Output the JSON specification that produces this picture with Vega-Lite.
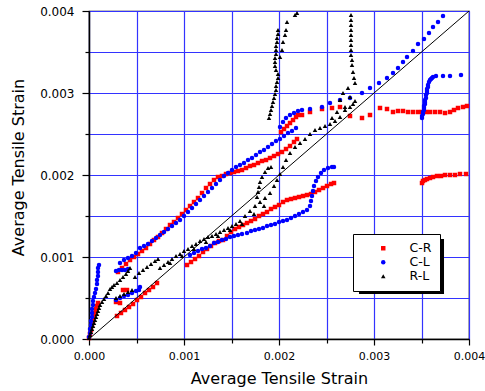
{
"$schema": "https://vega.github.io/schema/vega-lite/v6.json",
"width": 380, "height": 328,
"autosize": {"type": "none"},
"padding": {"left": 89, "top": 11, "right": 16, "bottom": 52},
"background": "white",
"config": {"view": {"stroke": "black", "strokeWidth": 1.2}, "font": "DejaVu Sans"},
"datasets": {
"diag": [{"x": 0, "y": 0}, {"x": 0.004, "y": 0.004}],
"pts": [
{"s":"C-R","x":0,"y":0.0000122},{"s":"C-R","x":0.0000105,"y":0.0000610},{"s":"C-R","x":0.0000211,"y":0.0001098},{"s":"C-R","x":0.0000316,"y":0.0001707},{"s":"C-R","x":0.0000421,"y":0.0002195},{"s":"C-R","x":0.0000526,"y":0.0002683},{"s":"C-R","x":0.0000632,"y":0.0003171},{"s":"C-R","x":0.0000737,"y":0.0003659},{"s":"C-R","x":0.0000842,"y":0.0004024},{"s":"C-R","x":0.0000947,"y":0.0004390},
{"s":"C-R","x":0.0002947,"y":0.0002805},{"s":"C-R","x":0.0003368,"y":0.0003171},{"s":"C-R","x":0.0003789,"y":0.0003537},{"s":"C-R","x":0.0004211,"y":0.0003902},{"s":"C-R","x":0.0004632,"y":0.0004268},{"s":"C-R","x":0.0005053,"y":0.0004756},{"s":"C-R","x":0.0005474,"y":0.0005122},{"s":"C-R","x":0.0005895,"y":0.0005610},{"s":"C-R","x":0.0006316,"y":0.0005976},{"s":"C-R","x":0.0006737,"y":0.0006341},{"s":"C-R","x":0.0007158,"y":0.0006829},
{"s":"C-R","x":0.0002842,"y":0.0004512},{"s":"C-R","x":0.0003263,"y":0.0004390},{"s":"C-R","x":0.0003579,"y":0.0005976},{"s":"C-R","x":0.0004,"y":0.0005976},
{"s":"C-R","x":0.0003053,"y":0.0008171},{"s":"C-R","x":0.0003474,"y":0.0008659},{"s":"C-R","x":0.0003895,"y":0.0009146},{"s":"C-R","x":0.0004316,"y":0.0009634},{"s":"C-R","x":0.0004737,"y":0.0010},{"s":"C-R","x":0.0005158,"y":0.0010366},{"s":"C-R","x":0.0005579,"y":0.0010732},{"s":"C-R","x":0.0006,"y":0.0011098},{"s":"C-R","x":0.0006421,"y":0.0011585},{"s":"C-R","x":0.0006842,"y":0.0012073},{"s":"C-R","x":0.0007263,"y":0.0012439},{"s":"C-R","x":0.0007684,"y":0.0012927},{"s":"C-R","x":0.0008105,"y":0.0013415},{"s":"C-R","x":0.0008526,"y":0.0013902},{"s":"C-R","x":0.0008947,"y":0.0014268},{"s":"C-R","x":0.0009368,"y":0.0014756},{"s":"C-R","x":0.0009789,"y":0.0015244},{"s":"C-R","x":0.0010211,"y":0.0015732},{"s":"C-R","x":0.0010632,"y":0.0016220},{"s":"C-R","x":0.0011053,"y":0.0016707},{"s":"C-R","x":0.0011474,"y":0.0017195},{"s":"C-R","x":0.0011895,"y":0.0017805},{"s":"C-R","x":0.0012316,"y":0.0018415},{"s":"C-R","x":0.0012737,"y":0.0018902},{"s":"C-R","x":0.0013158,"y":0.0019390},{"s":"C-R","x":0.0013579,"y":0.0019756},{"s":"C-R","x":0.0014,"y":0.0019878},{"s":"C-R","x":0.0014421,"y":0.0020122},{"s":"C-R","x":0.0014842,"y":0.0020244},{"s":"C-R","x":0.0015263,"y":0.0020366},{"s":"C-R","x":0.0015684,"y":0.0020488},{"s":"C-R","x":0.0016105,"y":0.0020610},{"s":"C-R","x":0.0016526,"y":0.0020854},{"s":"C-R","x":0.0016947,"y":0.0021098},{"s":"C-R","x":0.0017368,"y":0.0021220},{"s":"C-R","x":0.0017789,"y":0.0021463},{"s":"C-R","x":0.0018211,"y":0.0021707},{"s":"C-R","x":0.0018632,"y":0.0021829},{"s":"C-R","x":0.0019053,"y":0.0022073},{"s":"C-R","x":0.0019474,"y":0.0022317},{"s":"C-R","x":0.0019895,"y":0.0022561},{"s":"C-R","x":0.0020316,"y":0.0022805},{"s":"C-R","x":0.0020737,"y":0.0023171},{"s":"C-R","x":0.0021158,"y":0.0023537},{"s":"C-R","x":0.0021579,"y":0.0024024},{"s":"C-R","x":0.0021895,"y":0.0024390},
{"s":"C-R","x":0.0020211,"y":0.0025244},{"s":"C-R","x":0.0020526,"y":0.0025610},{"s":"C-R","x":0.0020842,"y":0.0025976},{"s":"C-R","x":0.0021158,"y":0.0026341},{"s":"C-R","x":0.0021474,"y":0.0026707},{"s":"C-R","x":0.0021789,"y":0.0027073},{"s":"C-R","x":0.0022,"y":0.0027317},
{"s":"C-R","x":0.0022421,"y":0.0027317},{"s":"C-R","x":0.0023263,"y":0.0027683},{"s":"C-R","x":0.0024526,"y":0.0028049},{"s":"C-R","x":0.0025579,"y":0.0028171},{"s":"C-R","x":0.0026421,"y":0.0028293},{"s":"C-R","x":0.0027474,"y":0.0027195},{"s":"C-R","x":0.0028737,"y":0.0026951},{"s":"C-R","x":0.0029579,"y":0.0027317},{"s":"C-R","x":0.0030632,"y":0.0028171},{"s":"C-R","x":0.0031368,"y":0.0028049},{"s":"C-R","x":0.0032,"y":0.0027683},{"s":"C-R","x":0.0032526,"y":0.0027805},{"s":"C-R","x":0.0033053,"y":0.0027805},{"s":"C-R","x":0.0033579,"y":0.0027683},{"s":"C-R","x":0.0034105,"y":0.0027683},{"s":"C-R","x":0.0034632,"y":0.0027683},{"s":"C-R","x":0.0035053,"y":0.0027683},{"s":"C-R","x":0.0035474,"y":0.0027683},{"s":"C-R","x":0.0035895,"y":0.0027683},{"s":"C-R","x":0.0036421,"y":0.0027683},{"s":"C-R","x":0.0036947,"y":0.0027683},{"s":"C-R","x":0.0037474,"y":0.0027561},{"s":"C-R","x":0.0038,"y":0.0027683},{"s":"C-R","x":0.0038421,"y":0.0027927},{"s":"C-R","x":0.0038842,"y":0.0028171},{"s":"C-R","x":0.0039368,"y":0.0028293},{"s":"C-R","x":0.0039789,"y":0.0028415},
{"s":"C-R","x":0.0010316,"y":0.0009024},{"s":"C-R","x":0.0010737,"y":0.0009390},{"s":"C-R","x":0.0011158,"y":0.0009756},{"s":"C-R","x":0.0011579,"y":0.0010122},{"s":"C-R","x":0.0012,"y":0.0010610},{"s":"C-R","x":0.0012421,"y":0.0010976},{"s":"C-R","x":0.0012842,"y":0.0011341},{"s":"C-R","x":0.0013263,"y":0.0011707},{"s":"C-R","x":0.0013684,"y":0.0011951},{"s":"C-R","x":0.0014105,"y":0.0012073},{"s":"C-R","x":0.0014526,"y":0.0012561},{"s":"C-R","x":0.0014947,"y":0.0013049},{"s":"C-R","x":0.0015368,"y":0.0013415},{"s":"C-R","x":0.0015789,"y":0.0013659},{"s":"C-R","x":0.0016211,"y":0.0013902},{"s":"C-R","x":0.0016632,"y":0.0014146},{"s":"C-R","x":0.0017053,"y":0.0014390},{"s":"C-R","x":0.0017474,"y":0.0014634},{"s":"C-R","x":0.0017895,"y":0.0015},{"s":"C-R","x":0.0018316,"y":0.0015244},{"s":"C-R","x":0.0018737,"y":0.0015488},{"s":"C-R","x":0.0019158,"y":0.0015854},{"s":"C-R","x":0.0019579,"y":0.0016098},{"s":"C-R","x":0.002,"y":0.0016341},{"s":"C-R","x":0.0020421,"y":0.0016707},{"s":"C-R","x":0.0020842,"y":0.0016951},{"s":"C-R","x":0.0021263,"y":0.0017073},{"s":"C-R","x":0.0021684,"y":0.0017195},{"s":"C-R","x":0.0022105,"y":0.0017317},{"s":"C-R","x":0.0022526,"y":0.0017439},{"s":"C-R","x":0.0022947,"y":0.0017561},{"s":"C-R","x":0.0023368,"y":0.0017683},{"s":"C-R","x":0.0023789,"y":0.0017927},{"s":"C-R","x":0.0024211,"y":0.0018171},{"s":"C-R","x":0.0024632,"y":0.0018415},{"s":"C-R","x":0.0025053,"y":0.0018659},{"s":"C-R","x":0.0025474,"y":0.0018902},{"s":"C-R","x":0.0025789,"y":0.0019024},
{"s":"C-R","x":0.0035053,"y":0.0019024},{"s":"C-R","x":0.0035158,"y":0.0019268},{"s":"C-R","x":0.0035368,"y":0.0019390},{"s":"C-R","x":0.0035579,"y":0.0019512},{"s":"C-R","x":0.0035895,"y":0.0019634},{"s":"C-R","x":0.0036211,"y":0.0019756},{"s":"C-R","x":0.0036632,"y":0.0019878},{"s":"C-R","x":0.0037053,"y":0.0019878},{"s":"C-R","x":0.0037474,"y":0.002},{"s":"C-R","x":0.0038,"y":0.002},{"s":"C-R","x":0.0038526,"y":0.002},{"s":"C-R","x":0.0039053,"y":0.0020122},{"s":"C-R","x":0.0039684,"y":0.0020122},
{"s":"C-L","x":0,"y":0.0000244},{"s":"C-L","x":0.0000105,"y":0.0000732},{"s":"C-L","x":0.0000105,"y":0.0001220},{"s":"C-L","x":0.0000211,"y":0.0001707},{"s":"C-L","x":0.0000211,"y":0.0002195},{"s":"C-L","x":0.0000316,"y":0.0002683},{"s":"C-L","x":0.0000316,"y":0.0003171},{"s":"C-L","x":0.0000316,"y":0.0003659},{"s":"C-L","x":0.0000421,"y":0.0004146},{"s":"C-L","x":0.0000421,"y":0.0004634},{"s":"C-L","x":0.0000526,"y":0.0005122},{"s":"C-L","x":0.0000632,"y":0.0005610},{"s":"C-L","x":0.0000737,"y":0.0006098},{"s":"C-L","x":0.0000842,"y":0.0006707},{"s":"C-L","x":0.0000842,"y":0.0007195},{"s":"C-L","x":0.0000947,"y":0.0007683},{"s":"C-L","x":0.0000947,"y":0.0008171},{"s":"C-L","x":0.0000947,"y":0.0008659},{"s":"C-L","x":0.0001053,"y":0.0009024},
{"s":"C-L","x":0.0002842,"y":0.0008293},{"s":"C-L","x":0.0003158,"y":0.0008415},{"s":"C-L","x":0.0003474,"y":0.0008415},{"s":"C-L","x":0.0003789,"y":0.0008415},{"s":"C-L","x":0.0004105,"y":0.0008537},
{"s":"C-L","x":0.0003263,"y":0.0009268},{"s":"C-L","x":0.0003684,"y":0.0009634},{"s":"C-L","x":0.0004105,"y":0.0009878},{"s":"C-L","x":0.0004526,"y":0.0010122},{"s":"C-L","x":0.0004947,"y":0.0010488},{"s":"C-L","x":0.0005368,"y":0.0011098},{"s":"C-L","x":0.0005789,"y":0.0011341},{"s":"C-L","x":0.0006211,"y":0.0011585},{"s":"C-L","x":0.0006632,"y":0.0011951},{"s":"C-L","x":0.0007053,"y":0.0012317},{"s":"C-L","x":0.0007474,"y":0.0012683},{"s":"C-L","x":0.0007895,"y":0.0013049},{"s":"C-L","x":0.0008316,"y":0.0013415},{"s":"C-L","x":0.0008737,"y":0.0013780},{"s":"C-L","x":0.0009158,"y":0.0014146},{"s":"C-L","x":0.0009579,"y":0.0014512},{"s":"C-L","x":0.001,"y":0.0015},{"s":"C-L","x":0.0010421,"y":0.0015488},{"s":"C-L","x":0.0010842,"y":0.0015976},{"s":"C-L","x":0.0011263,"y":0.0016463},{"s":"C-L","x":0.0011684,"y":0.0016951},{"s":"C-L","x":0.0012105,"y":0.0017439},{"s":"C-L","x":0.0012526,"y":0.0017927},{"s":"C-L","x":0.0012947,"y":0.0018415},{"s":"C-L","x":0.0013368,"y":0.0018902},{"s":"C-L","x":0.0013789,"y":0.0019390},{"s":"C-L","x":0.0014211,"y":0.0019878},{"s":"C-L","x":0.0014632,"y":0.0020244},{"s":"C-L","x":0.0015053,"y":0.0020610},{"s":"C-L","x":0.0015474,"y":0.0020976},{"s":"C-L","x":0.0015895,"y":0.0021220},{"s":"C-L","x":0.0016316,"y":0.0021463},{"s":"C-L","x":0.0016737,"y":0.0021829},{"s":"C-L","x":0.0017158,"y":0.0022073},{"s":"C-L","x":0.0017579,"y":0.0022439},{"s":"C-L","x":0.0018,"y":0.0022805},{"s":"C-L","x":0.0018421,"y":0.0023049},{"s":"C-L","x":0.0018842,"y":0.0023415},{"s":"C-L","x":0.0019263,"y":0.0023780},{"s":"C-L","x":0.0019684,"y":0.0024146},{"s":"C-L","x":0.0020105,"y":0.0024390},{"s":"C-L","x":0.0020526,"y":0.0024756},{"s":"C-L","x":0.0020947,"y":0.0025122},{"s":"C-L","x":0.0021368,"y":0.0025366},{"s":"C-L","x":0.0021789,"y":0.0025732},
{"s":"C-L","x":0.0020105,"y":0.0025854},{"s":"C-L","x":0.0020421,"y":0.0026463},{"s":"C-L","x":0.0020737,"y":0.0026951},{"s":"C-L","x":0.0021158,"y":0.0027317},{"s":"C-L","x":0.0021579,"y":0.0027561},{"s":"C-L","x":0.0022,"y":0.0027805},{"s":"C-L","x":0.0022421,"y":0.0027927},
{"s":"C-L","x":0.0023263,"y":0.0028049},{"s":"C-L","x":0.0024526,"y":0.0028293},{"s":"C-L","x":0.0025368,"y":0.0028780},{"s":"C-L","x":0.0026421,"y":0.0029146},{"s":"C-L","x":0.0027474,"y":0.0029390},{"s":"C-L","x":0.0028737,"y":0.003},{"s":"C-L","x":0.0029579,"y":0.0030610},{"s":"C-L","x":0.0030526,"y":0.0031220},{"s":"C-L","x":0.0031368,"y":0.0031829},{"s":"C-L","x":0.0032,"y":0.0032439},{"s":"C-L","x":0.0032526,"y":0.0033049},{"s":"C-L","x":0.0033053,"y":0.0033780},{"s":"C-L","x":0.0033474,"y":0.0034390},{"s":"C-L","x":0.0034105,"y":0.0035122},{"s":"C-L","x":0.0034632,"y":0.0035976},{"s":"C-L","x":0.0035263,"y":0.0036585},{"s":"C-L","x":0.0035789,"y":0.0037317},{"s":"C-L","x":0.0036211,"y":0.0038049},{"s":"C-L","x":0.0036737,"y":0.0038659},{"s":"C-L","x":0.0037263,"y":0.0039390},
{"s":"C-L","x":0.0035053,"y":0.0026951},{"s":"C-L","x":0.0035053,"y":0.0027195},{"s":"C-L","x":0.0035158,"y":0.0027439},{"s":"C-L","x":0.0035158,"y":0.0027683},{"s":"C-L","x":0.0035263,"y":0.0027927},{"s":"C-L","x":0.0035263,"y":0.0028171},{"s":"C-L","x":0.0035263,"y":0.0028415},{"s":"C-L","x":0.0035368,"y":0.0028659},{"s":"C-L","x":0.0035368,"y":0.0028902},{"s":"C-L","x":0.0035368,"y":0.0029146},{"s":"C-L","x":0.0035474,"y":0.0029390},{"s":"C-L","x":0.0035474,"y":0.0029756},{"s":"C-L","x":0.0035579,"y":0.003},{"s":"C-L","x":0.0035579,"y":0.0030244},{"s":"C-L","x":0.0035579,"y":0.0030488},{"s":"C-L","x":0.0035684,"y":0.0030732},{"s":"C-L","x":0.0035684,"y":0.0030976},{"s":"C-L","x":0.0035789,"y":0.0031341},{"s":"C-L","x":0.0035895,"y":0.0031585},{"s":"C-L","x":0.0036,"y":0.0031707},{"s":"C-L","x":0.0036105,"y":0.0031829},{"s":"C-L","x":0.0036211,"y":0.0031951},{"s":"C-L","x":0.0036526,"y":0.0032073},{"s":"C-L","x":0.0037263,"y":0.0032073},{"s":"C-L","x":0.0038,"y":0.0032073},{"s":"C-L","x":0.0039158,"y":0.0032195},
{"s":"C-L","x":0.0010632,"y":0.0010244},{"s":"C-L","x":0.0011053,"y":0.0010488},{"s":"C-L","x":0.0011474,"y":0.0010732},{"s":"C-L","x":0.0011895,"y":0.0010976},{"s":"C-L","x":0.0012316,"y":0.0011098},{"s":"C-L","x":0.0012737,"y":0.0011341},{"s":"C-L","x":0.0013158,"y":0.0011707},{"s":"C-L","x":0.0013579,"y":0.0011829},{"s":"C-L","x":0.0014,"y":0.0012073},{"s":"C-L","x":0.0014421,"y":0.0012195},{"s":"C-L","x":0.0014842,"y":0.0012439},{"s":"C-L","x":0.0015263,"y":0.0012561},{"s":"C-L","x":0.0015684,"y":0.0012683},{"s":"C-L","x":0.0016105,"y":0.0012805},{"s":"C-L","x":0.0016632,"y":0.0012927},{"s":"C-L","x":0.0017053,"y":0.0013171},{"s":"C-L","x":0.0017474,"y":0.0013293},{"s":"C-L","x":0.0017895,"y":0.0013415},{"s":"C-L","x":0.0018316,"y":0.0013537},{"s":"C-L","x":0.0018737,"y":0.0013780},{"s":"C-L","x":0.0019158,"y":0.0013902},{"s":"C-L","x":0.0019579,"y":0.0014024},{"s":"C-L","x":0.002,"y":0.0014268},{"s":"C-L","x":0.0020421,"y":0.0014390},{"s":"C-L","x":0.0020842,"y":0.0014512},{"s":"C-L","x":0.0021263,"y":0.0014756},{"s":"C-L","x":0.0021684,"y":0.0015},{"s":"C-L","x":0.0022105,"y":0.0015244},{"s":"C-L","x":0.0022526,"y":0.0015488},{"s":"C-L","x":0.0022947,"y":0.0015732},{"s":"C-L","x":0.0023263,"y":0.0016220},{"s":"C-L","x":0.0023368,"y":0.0016829},{"s":"C-L","x":0.0023474,"y":0.0017439},{"s":"C-L","x":0.0023579,"y":0.0018049},{"s":"C-L","x":0.0023684,"y":0.0018659},{"s":"C-L","x":0.0023895,"y":0.0019268},{"s":"C-L","x":0.0024105,"y":0.0019756},{"s":"C-L","x":0.0024421,"y":0.0020244},{"s":"C-L","x":0.0024737,"y":0.0020610},{"s":"C-L","x":0.0025158,"y":0.0020854},{"s":"C-L","x":0.0025579,"y":0.0020976},{"s":"C-L","x":0.0025789,"y":0.0020976},
{"s":"C-L","x":0.0002842,"y":0.0004756},{"s":"C-L","x":0.0003263,"y":0.0005},{"s":"C-L","x":0.0003684,"y":0.0005244},{"s":"C-L","x":0.0004105,"y":0.0005366},{"s":"C-L","x":0.0004526,"y":0.0005610},{"s":"C-L","x":0.0004947,"y":0.0005854},{"s":"C-L","x":0.0005263,"y":0.0005976},{"s":"C-L","x":0.0005368,"y":0.0006341},
{"s":"R-L","x":0,"y":0.0000122},{"s":"R-L","x":0.0000105,"y":0.0000488},{"s":"R-L","x":0.0000211,"y":0.0000854},{"s":"R-L","x":0.0000316,"y":0.0001220},{"s":"R-L","x":0.0000421,"y":0.0001585},{"s":"R-L","x":0.0000526,"y":0.0001951},{"s":"R-L","x":0.0000632,"y":0.0002317},{"s":"R-L","x":0.0000737,"y":0.0002683},{"s":"R-L","x":0.0000842,"y":0.0003049},{"s":"R-L","x":0.0000947,"y":0.0003415},{"s":"R-L","x":0.0001053,"y":0.0003780},{"s":"R-L","x":0.0001158,"y":0.0004146},{"s":"R-L","x":0.0001368,"y":0.0004512},{"s":"R-L","x":0.0001579,"y":0.0004878},{"s":"R-L","x":0.0001789,"y":0.0005244},{"s":"R-L","x":0.0002,"y":0.0005610},{"s":"R-L","x":0.0002211,"y":0.0006098},{"s":"R-L","x":0.0002421,"y":0.0006341},{"s":"R-L","x":0.0002632,"y":0.0006585},{"s":"R-L","x":0.0002947,"y":0.0006829},{"s":"R-L","x":0.0003263,"y":0.0007195},{"s":"R-L","x":0.0003579,"y":0.0007561},{"s":"R-L","x":0.0003895,"y":0.0007927},{"s":"R-L","x":0.0004105,"y":0.0008293},{"s":"R-L","x":0.0004316,"y":0.0008659},
{"s":"R-L","x":0.0004842,"y":0.0007561},{"s":"R-L","x":0.0005263,"y":0.0008049},{"s":"R-L","x":0.0005684,"y":0.0008415},{"s":"R-L","x":0.0006105,"y":0.0008780},{"s":"R-L","x":0.0006526,"y":0.0009146},{"s":"R-L","x":0.0006947,"y":0.0009512},{"s":"R-L","x":0.0007263,"y":0.0009756},
{"s":"R-L","x":0.0002842,"y":0.0005},{"s":"R-L","x":0.0003263,"y":0.0005244},{"s":"R-L","x":0.0003684,"y":0.0005488},{"s":"R-L","x":0.0004105,"y":0.0005732},{"s":"R-L","x":0.0004526,"y":0.0005976},
{"s":"R-L","x":0.0007474,"y":0.0008659},{"s":"R-L","x":0.0007895,"y":0.0009024},{"s":"R-L","x":0.0008316,"y":0.0009390},{"s":"R-L","x":0.0008737,"y":0.0009756},{"s":"R-L","x":0.0009158,"y":0.0010122},{"s":"R-L","x":0.0009579,"y":0.0010366},{"s":"R-L","x":0.001,"y":0.0010732},{"s":"R-L","x":0.0010421,"y":0.0010976},{"s":"R-L","x":0.0010842,"y":0.0011341},{"s":"R-L","x":0.0011263,"y":0.0011585},{"s":"R-L","x":0.0011684,"y":0.0011951},{"s":"R-L","x":0.0012105,"y":0.0012195},{"s":"R-L","x":0.0012526,"y":0.0012439},{"s":"R-L","x":0.0012947,"y":0.0012561},{"s":"R-L","x":0.0013368,"y":0.0012805},{"s":"R-L","x":0.0013789,"y":0.0013049},{"s":"R-L","x":0.0014211,"y":0.0013293},{"s":"R-L","x":0.0014632,"y":0.0013537},{"s":"R-L","x":0.0015053,"y":0.0013780},{"s":"R-L","x":0.0015474,"y":0.0014024},{"s":"R-L","x":0.0015895,"y":0.0014390},{"s":"R-L","x":0.0016421,"y":0.0015},{"s":"R-L","x":0.0016947,"y":0.0015610},{"s":"R-L","x":0.0017474,"y":0.0016220},{"s":"R-L","x":0.0018,"y":0.0016707},{"s":"R-L","x":0.0018526,"y":0.0017195},{"s":"R-L","x":0.0019053,"y":0.0017805},{"s":"R-L","x":0.0019474,"y":0.0018659},{"s":"R-L","x":0.0019789,"y":0.0019390},{"s":"R-L","x":0.0020105,"y":0.0020122},{"s":"R-L","x":0.0020421,"y":0.0020976},{"s":"R-L","x":0.0020737,"y":0.0021829},{"s":"R-L","x":0.0021158,"y":0.0022683},{"s":"R-L","x":0.0021684,"y":0.0023415},{"s":"R-L","x":0.0022211,"y":0.0023902},{"s":"R-L","x":0.0022737,"y":0.0024390},{"s":"R-L","x":0.0023263,"y":0.0025},{"s":"R-L","x":0.0023789,"y":0.0025488},{"s":"R-L","x":0.0024316,"y":0.0025732},{"s":"R-L","x":0.0024842,"y":0.0025976},{"s":"R-L","x":0.0025368,"y":0.0026220},{"s":"R-L","x":0.0025895,"y":0.0026585},{"s":"R-L","x":0.0026421,"y":0.0027073},{"s":"R-L","x":0.0026947,"y":0.0027927},{"s":"R-L","x":0.0027474,"y":0.0028293},{"s":"R-L","x":0.0027789,"y":0.0028659},
{"s":"R-L","x":0.0008526,"y":0.0009268},{"s":"R-L","x":0.0009789,"y":0.0010122},{"s":"R-L","x":0.0011053,"y":0.0010976},{"s":"R-L","x":0.0012316,"y":0.0011829},{"s":"R-L","x":0.0013579,"y":0.0012561},{"s":"R-L","x":0.0014842,"y":0.0013293},{"s":"R-L","x":0.0016105,"y":0.0014024},{"s":"R-L","x":0.0017368,"y":0.0015244},{"s":"R-L","x":0.0018421,"y":0.0016220},
{"s":"R-L","x":0.0017684,"y":0.0017317},{"s":"R-L","x":0.0017789,"y":0.0017927},{"s":"R-L","x":0.0017895,"y":0.0018537},{"s":"R-L","x":0.0018,"y":0.0019146},{"s":"R-L","x":0.0018211,"y":0.0019756},{"s":"R-L","x":0.0018526,"y":0.0020366},{"s":"R-L","x":0.0018842,"y":0.0020854},{"s":"R-L","x":0.0019158,"y":0.0020976},
{"s":"R-L","x":0.0018947,"y":0.0026951},{"s":"R-L","x":0.0019053,"y":0.0027439},{"s":"R-L","x":0.0019158,"y":0.0027927},{"s":"R-L","x":0.0019263,"y":0.0028415},{"s":"R-L","x":0.0019368,"y":0.0028902},{"s":"R-L","x":0.0019474,"y":0.0029390},{"s":"R-L","x":0.0019579,"y":0.0029878},{"s":"R-L","x":0.0019684,"y":0.0030366},{"s":"R-L","x":0.0019684,"y":0.0030854},{"s":"R-L","x":0.0019789,"y":0.0031341},{"s":"R-L","x":0.0019895,"y":0.0031829},{"s":"R-L","x":0.0019895,"y":0.0032317},{"s":"R-L","x":0.0019684,"y":0.0032805},{"s":"R-L","x":0.0019579,"y":0.0033293},{"s":"R-L","x":0.0019579,"y":0.0033780},{"s":"R-L","x":0.0019579,"y":0.0034268},{"s":"R-L","x":0.0019684,"y":0.0034756},{"s":"R-L","x":0.0019684,"y":0.0035244},{"s":"R-L","x":0.0019684,"y":0.0035732},{"s":"R-L","x":0.0019789,"y":0.0036220},{"s":"R-L","x":0.0019789,"y":0.0036707},{"s":"R-L","x":0.0019895,"y":0.0037195},{"s":"R-L","x":0.0019895,"y":0.0037683},
{"s":"R-L","x":0.0020105,"y":0.0034390},{"s":"R-L","x":0.0020316,"y":0.0035244},{"s":"R-L","x":0.0020421,"y":0.0036220},{"s":"R-L","x":0.0020632,"y":0.0037073},{"s":"R-L","x":0.0020737,"y":0.0037683},{"s":"R-L","x":0.0020842,"y":0.0038659},{"s":"R-L","x":0.0021684,"y":0.0039512},{"s":"R-L","x":0.0021895,"y":0.0039756},
{"s":"R-L","x":0.0027579,"y":0.0039512},{"s":"R-L","x":0.0027579,"y":0.0038902},{"s":"R-L","x":0.0027579,"y":0.0038293},{"s":"R-L","x":0.0027579,"y":0.0037683},{"s":"R-L","x":0.0027579,"y":0.0037073},{"s":"R-L","x":0.0027579,"y":0.0036463},{"s":"R-L","x":0.0027579,"y":0.0035854},{"s":"R-L","x":0.0027579,"y":0.0035244},{"s":"R-L","x":0.0027579,"y":0.0034634},{"s":"R-L","x":0.0027684,"y":0.0034024},{"s":"R-L","x":0.0027684,"y":0.0033415},{"s":"R-L","x":0.0027789,"y":0.0032561},{"s":"R-L","x":0.0027895,"y":0.0031829},{"s":"R-L","x":0.0028,"y":0.0031220},{"s":"R-L","x":0.0027263,"y":0.0030610},{"s":"R-L","x":0.0026737,"y":0.003},{"s":"R-L","x":0.0026421,"y":0.0029146},{"s":"R-L","x":0.0027474,"y":0.0029512},{"s":"R-L","x":0.0028,"y":0.0029024},{"s":"R-L","x":0.0026947,"y":0.0028293},{"s":"R-L","x":0.0026105,"y":0.0027683},{"s":"R-L","x":0.0025579,"y":0.0026951}
]
},
"layer": [
{
"data": {"name": "pts"},
"mark": {"type": "point", "filled": true, "size": 20, "opacity": 1},
"encoding": {
"x": {"field": "x", "type": "quantitative", "title": "Average Tensile Strain", "scale": {"domain": [0, 0.004], "nice": false},
 "axis": {"title": "Average Tensile Strain", "values": [0, 0.0005, 0.001, 0.0015, 0.002, 0.0025, 0.003, 0.0035, 0.004],
  "labelExpr": "abs(datum.value*1000 - round(datum.value*1000)) < 0.01 ? format(datum.value, '.3f') : ''",
  "labelFont": "DejaVu Sans", "labelFontSize": 11, "labelColor": "black", "labelPadding": 5, "labelFlush": false, "labelOverlap": false,
  "titleFont": "DejaVu Sans", "titleFontSize": 16, "titleFontWeight": "normal", "titleColor": "black", "titleBaseline": "alphabetic", "titleY": 44,
  "domainColor": "black", "domainWidth": 1.5, "tickColor": "black", "tickWidth": 1.2,
  "tickSize": {"condition": {"test": "abs(datum.value*1000 - round(datum.value*1000)) < 0.01", "value": 6}, "value": 4},
  "grid": true, "gridColor": "#3333ff", "gridWidth": 1.2, "gridOpacity": 1}},
"y": {"field": "y", "type": "quantitative", "title": "Average Tensile Strain", "scale": {"domain": [0, 0.004], "nice": false},
 "axis": {"title": "Average Tensile Strain", "values": [0, 0.0005, 0.001, 0.0015, 0.002, 0.0025, 0.003, 0.0035, 0.004],
  "labelExpr": "abs(datum.value*1000 - round(datum.value*1000)) < 0.01 ? format(datum.value, '.3f') : ''",
  "labelFont": "DejaVu Sans", "labelFontSize": 12, "labelColor": "black", "labelPadding": 8, "labelFlush": false, "labelOverlap": false,
  "titleFont": "DejaVu Sans", "titleFontSize": 16, "titleFontWeight": "normal", "titleColor": "black", "titleBaseline": "alphabetic", "titleX": -66, "titleY": 156, "titleAlign": "center",
  "domainColor": "black", "domainWidth": 1.5, "tickColor": "black", "tickWidth": 1.2,
  "tickSize": {"condition": {"test": "abs(datum.value*1000 - round(datum.value*1000)) < 0.01", "value": 7}, "value": 4},
  "grid": true, "gridColor": "#3333ff", "gridWidth": 1.2, "gridOpacity": 1}},
"color": {"field": "s", "type": "nominal", "scale": {"domain": ["C-R", "C-L", "R-L"], "range": ["#ff0000", "#0000ff", "#000000"]},
 "legend": {"orient": "none", "legendX": 264, "legendY": 223, "title": null, "fillColor": "white", "strokeColor": "black", "padding": 8, "symbolOffset": 16, "labelOffset": 20, "rowPadding": 1, "labelFont": "DejaVu Sans", "labelFontSize": 12.5, "labelColor": "black", "symbolSize": 20, "symbolStrokeWidth": 0}},
"shape": {"field": "s", "type": "nominal", "scale": {"domain": ["C-R", "C-L", "R-L"], "range": ["square", "circle", "triangle-up"]},
 "legend": {"orient": "none", "legendX": 264, "legendY": 223, "title": null, "fillColor": "white", "strokeColor": "black", "padding": 8, "symbolOffset": 16, "labelOffset": 20, "rowPadding": 1, "labelFont": "DejaVu Sans", "labelFontSize": 12.5, "labelColor": "black", "symbolSize": 20, "symbolStrokeWidth": 0}}
}
},
{
"data": {"values": [{}]},
"mark": {"type": "rect", "color": "black"},
"encoding": {"x": {"datum": 0.002842, "type": "quantitative", "title": "Average Tensile Strain"}, "x2": {"datum": 0.003737}, "y": {"datum": 0.00122, "type": "quantitative", "title": "Average Tensile Strain"}, "y2": {"datum": 0.000549}}
},
{
"data": {"name": "diag"},
"mark": {"type": "line", "color": "black", "strokeWidth": 1},
"encoding": {"x": {"field": "x", "type": "quantitative", "title": "Average Tensile Strain"}, "y": {"field": "y", "type": "quantitative", "title": "Average Tensile Strain"}}
}
]
}
